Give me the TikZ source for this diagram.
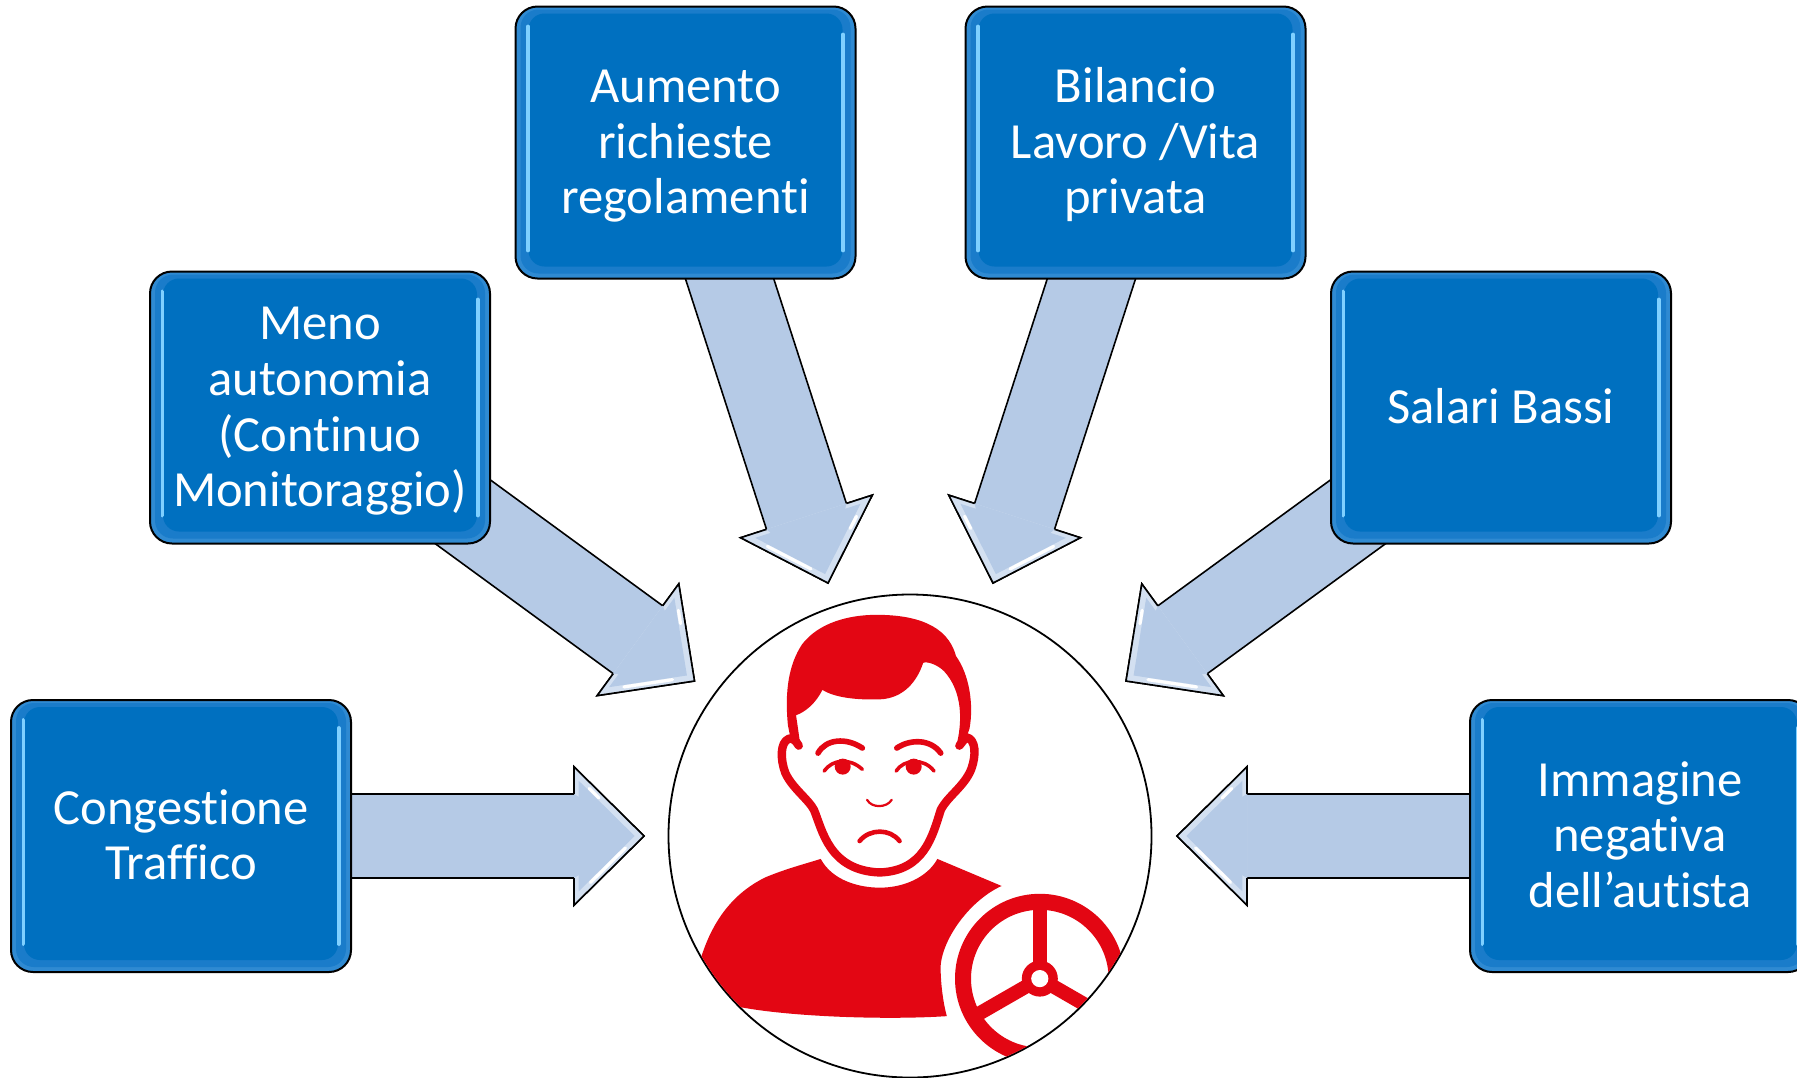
\documentclass[tikz,border=0pt]{standalone}
\usepackage{fontspec}
\setmainfont{Carlito}[Ligatures=NoCommon]
\usetikzlibrary{calc,backgrounds}
\definecolor{boxblue}{HTML}{0070C0}
\definecolor{boxedge}{HTML}{2F8AD2}
\definecolor{boxmid}{HTML}{1A7CCA}
\definecolor{boxglow}{HTML}{7FD0FF}
\definecolor{arrowblue}{HTML}{B5CAE6}
\definecolor{arrowpale}{HTML}{D3E0F1}
\definecolor{iconred}{HTML}{E30613}
\tikzset{
  causebox/.style={
    draw=black, line width=1pt, rounded corners=11pt,
    minimum width=170pt, minimum height=136pt, inner sep=0pt,
    fill=boxedge, text=white,
    font=\fontsize{25.3pt}{27.8pt}\selectfont,
    path picture={
      \coordinate (nw) at (path picture bounding box.north west);
      \coordinate (se) at (path picture bounding box.south east);
      \fill[boxmid, rounded corners=9pt] ($(nw)+(2.5pt,-1.5pt)$) rectangle ($(se)+(-2.5pt,2.5pt)$);
      \fill[boxblue, rounded corners=8pt] ($(nw)+(6.5pt,-3.5pt)$) rectangle ($(se)+(-6.5pt,6pt)$);
      \draw[boxglow, line width=1.9pt, line cap=round] ($(nw)+(6.2pt,-10pt)$) -- ($(nw|-se)+(6.2pt,14pt)$);
      \draw[boxglow, line width=1.9pt, line cap=round] ($(se|-nw)+(-6.2pt,-14pt)$) -- ($(se)+(-6.2pt,14pt)$);
    }},
  blockoutline/.style={draw=black, line width=0.8pt, line join=miter, fill=arrowblue},
  iconline/.style={draw=iconred, line cap=round, line join=round}
}
% centred block of lines, independent of the letters' heights
\newcommand{\boxtext}[1]{\raisebox{-8.6pt}[0pt][0pt]{\begin{tabular}[c]{@{}c@{}}#1\end{tabular}}}
% block arrow from a named box to a named tip; #3 = head corner with the long bright strip, #4 = the other corner
\newcommand{\blockarrow}[4]{%
  \coordinate (hb) at ($(#2)!35pt!(#1)$);
  \coordinate (hA) at ($(hb)!34.6pt!90:(#2)$);
  \coordinate (hB) at ($(hb)!34.6pt!-90:(#2)$);
  \coordinate (sA) at ($(hb)!21pt!90:(#2)$);
  \coordinate (sB) at ($(hb)!21pt!-90:(#2)$);
  \coordinate (tA) at ($(#1)!21pt!90:(hb)$);
  \coordinate (tB) at ($(#1)!21pt!-90:(hb)$);
  \coordinate (hc) at ($(hb)!0.33!(#2)$);
  \path[blockoutline] (tA) -- (sA) -- (hA) -- (#2) -- (hB) -- (sB) -- (tB) -- cycle;
  \fill[arrowpale] (hA) -- (#2) -- (hB) -- cycle;
  \fill[arrowblue] ($(hc)!0.8!(hA)$) -- ($(hc)!0.8!(#2)$) -- ($(hc)!0.8!(hB)$) -- cycle;
  \fill[arrowblue] (sA) -- ($(sA)!0.3!(#2)$) -- ($(sB)!0.3!(#2)$) -- (sB) -- cycle;
  \draw[white, line width=1.6pt, line cap=round] ($($(#3)!0.22!(#2)$)!0.14!(hc)$) -- ($($(#3)!0.8!(#2)$)!0.14!(hc)$);
  \draw[white, line width=1.6pt, line cap=round] ($($(#4)!0.2!(#2)$)!0.14!(hc)$) -- ($($(#4)!0.36!(#2)$)!0.14!(hc)$);
  \draw[black, line width=0.8pt, line join=miter] (sA) -- (hA) -- (#2) -- (hB) -- (sB);
}
\begin{document}
\begin{tikzpicture}[x=0.5pt,y=-0.5pt]
\clip (0,0) rectangle (1797,1077);

\node[causebox] (congestione) at (181,836) {\boxtext{Congestione\\Traffico}};
\node[causebox] (meno) at (320,407.5) {\boxtext{Meno\\autonomia\\(Continuo\\Monitoraggio)}};
\node[causebox] (aumento) at (685.5,142.5) {\boxtext{Aumento\\richieste\\regolamenti}};
\node[causebox] (bilancio) at (1135.5,142.5) {\boxtext{Bilancio\\Lavoro /Vita\\privata}};
\node[causebox] (salari) at (1501,407.5) {\boxtext{Salari Bassi}};
\node[causebox] (immagine) at (1640,836) {\boxtext{Immagine\\negativa\\dell’autista}};

\node[circle, draw=black, line width=0.9pt, fill=white, minimum size=241.5pt, inner sep=0pt] (driver) at (910,836) {};

\coordinate (tipcongestione) at (644,836);
\coordinate (tipmeno) at (694.5,681);
\coordinate (tipaumento) at (828,583);
\coordinate (tipbilancio) at (993,583);
\coordinate (tipsalari) at (1126,681);
\coordinate (tipimmagine) at (1177,836);

\begin{scope}[on background layer]
  \blockarrow{congestione.center}{tipcongestione}{hB}{hA}
  \blockarrow{meno.center}{tipmeno}{hB}{hA}
  \blockarrow{aumento.center}{tipaumento}{hB}{hA}
  \blockarrow{bilancio.center}{tipbilancio}{hA}{hB}
  \blockarrow{salari.center}{tipsalari}{hA}{hB}
  \blockarrow{immagine.center}{tipimmagine}{hA}{hB}
\end{scope}

\begin{scope}
  \clip (driver.center) circle (120.3pt);
  \begin{scope}[shift={(650,580)}, x=0.16903pt, y=-0.16903pt]
    % hair
    \fill[iconred] (408,430) .. controls (398,330) and (410,250) .. (450,190)
      .. controls (500,125) and (590,103) .. (670,103)
      .. controls (780,103) and (880,130) .. (905,225)
      .. controls (945,280) and (958,370) .. (945,440) -- (925,495) -- (905,495)
      .. controls (925,420) and (925,330) .. (870,270)
      .. controls (850,250) and (820,240) .. (808,245)
      .. controls (790,300) and (750,350) .. (680,353)
      .. controls (620,355) and (550,350) .. (510,325)
      .. controls (490,365) and (460,390) .. (432,400)
      -- (445,490) -- (415,465) -- cycle;
    % face and ears
    \path[iconline, line width=4.2pt] (440,490) .. controls (425,465) and (415,468) .. (410,470)
      .. controls (385,480) and (385,530) .. (400,570)
      .. controls (420,615) and (470,650) .. (485,680)
      .. controls (510,740) and (530,860) .. (680,865)
      .. controls (810,860) and (835,760) .. (860,680)
      .. controls (880,640) and (930,610) .. (950,560)
      .. controls (965,520) and (965,470) .. (935,465) -- (915,490);
    % brows, eyes, nose, mouth
    \path[iconline, line width=2.8pt] (497,512) .. controls (520,470) and (580,465) .. (628,497);
    \path[iconline, line width=2.8pt] (730,497) .. controls (770,470) and (830,470) .. (860,512);
    \path[iconline, line width=1.8pt] (515,565) .. controls (540,530) and (590,525) .. (628,560);
    \path[iconline, line width=1.8pt] (728,565) .. controls (750,530) and (810,525) .. (840,565);
    \fill[iconred] (570,552) circle [radius=4pt];
    \fill[iconred] (780,552) circle [radius=4pt];
    \path[iconline, line width=1.1pt] (642,650) .. controls (655,675) and (700,675) .. (715,650);
    \path[iconline, line width=2.3pt] (620,772) .. controls (650,735) and (710,735) .. (738,772);
    % torso
    \fill[iconred] (505,825) .. controls (540,890) and (620,910) .. (680,910)
      .. controls (750,910) and (820,880) .. (850,825) -- (1040,905)
      .. controls (940,950) and (850,1080) .. (860,1165)
      .. controls (862,1215) and (870,1262) .. (878,1290)
      .. controls (700,1302) and (400,1292) .. (250,1260)
      -- (150,1200) -- (150,1120)
      .. controls (190,990) and (260,920) .. (340,880)
      .. controls (400,855) and (450,842) .. (505,825) -- cycle;
    % steering wheel
    \draw[iconred, line width=8pt] (1153,1179) circle [radius=38.4pt];
    \draw[iconred, line width=7pt] (1153,1179) -- (1153,952);
    \draw[iconred, line width=7pt] (1153,1179) -- (962,1289);
    \draw[iconred, line width=7pt] (1153,1179) -- (1344,1289);
    \fill[iconred] (1153,1179) circle [radius=9pt];
    \fill[white] (1153,1179) circle [radius=4.3pt];
  \end{scope}
\end{scope}
\end{tikzpicture}
\end{document}
